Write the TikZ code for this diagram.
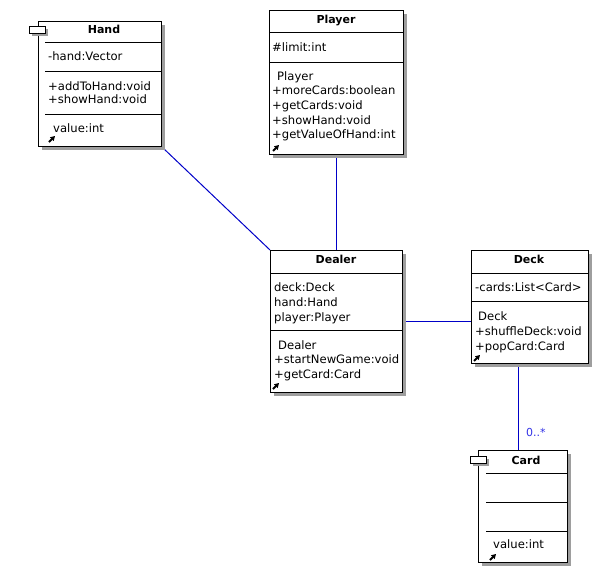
\documentclass[tikz,border=0pt]{standalone}
\usepackage{fontspec}
\setmainfont{DejaVu Sans}
\usetikzlibrary{shadows,arrows.meta,backgrounds}
\definecolor{assocblue}{RGB}{0,0,200}
\definecolor{labelblue}{RGB}{50,50,230}
\tikzset{
  umlbox/.style={draw,line width=1pt,fill=white,inner sep=0pt,anchor=north west,
    drop shadow={shadow xshift=3pt,shadow yshift=-3pt,fill=black!38,opacity=1}},
  umltab/.style={draw,line width=1pt,fill=white,inner sep=0pt,anchor=north west,
    minimum width=16pt,minimum height=7pt,
    drop shadow={shadow xshift=2pt,shadow yshift=-2pt,fill=black!38,opacity=1}},
  umltitle/.style={font=\bfseries\fontsize{11}{13}\selectfont,inner sep=0pt,anchor=mid,yshift=-2.5pt},
  umltext/.style={font=\fontsize{11.6}{13}\selectfont,inner sep=0pt,anchor=mid west,yshift=-2pt},
  umlsep/.style={line width=1pt},
  umlicon/.style={-{Triangle[length=4.5pt,width=5pt]},line width=2pt},
  assoc/.style={line width=1pt,draw=assocblue}
}
\begin{document}
\begin{tikzpicture}[x=1pt,y=-1pt]
  \useasboundingbox (0,0) rectangle (599,573);
  % Hand
  \begin{scope}[shift={(38,21)}]
    \node[umlbox,minimum width=123pt,minimum height=125pt] (Hand) at (0,0) {};
    \node[umltab] (handtab) at (-9,5) {};
    \node[umltitle] at (66,7) {Hand};
    \foreach \y in {21,50,93} \draw[umlsep] (7,\y) -- (123,\y);
    \node[umltext] at (10,35) {-hand:Vector};
    \node[umltext] at (10,65) {+addToHand:void};
    \node[umltext] at (10,78) {+showHand:void};
    \node[umltext] at (15,107) {value:int};
    \draw[umlicon] (11,121) -- ++(6,-6);
  \end{scope}
  % Player
  \begin{scope}[shift={(269,10)}]
    \node[umlbox,minimum width=134pt,minimum height=144pt] (Player) at (0,0) {};
    \node[umltitle] at (67,8) {Player};
    \foreach \y in {22,52} \draw[umlsep] (0,\y) -- (134,\y);
    \node[umltext] at (3,37) {\#limit:int};
    \node[umltext] at (8,66) {Player};
    \node[umltext] at (3,80) {+moreCards:boolean};
    \node[umltext] at (3,95) {+getCards:void};
    \node[umltext] at (3,110) {+showHand:void};
    \node[umltext] at (3,124) {+getValueOfHand:int};
    \draw[umlicon] (4,141) -- ++(6,-6);
  \end{scope}
  % Dealer
  \begin{scope}[shift={(270,250)}]
    \node[umlbox,minimum width=132pt,minimum height=142pt] (Dealer) at (0,0) {};
    \node[umltitle] at (66,8) {Dealer};
    \foreach \y in {23,80} \draw[umlsep] (0,\y) -- (132,\y);
    \node[umltext] at (4,37) {deck:Deck};
    \node[umltext] at (4,52) {hand:Hand};
    \node[umltext] at (4,67) {player:Player};
    \node[umltext] at (8,95) {Dealer};
    \node[umltext] at (4,109) {+startNewGame:void};
    \node[umltext] at (4,124) {+getCard:Card};
    \draw[umlicon] (3,139) -- ++(6,-6);
  \end{scope}
  % Deck
  \begin{scope}[shift={(471,250)}]
    \node[umlbox,minimum width=117pt,minimum height=113pt] (Deck) at (0,0) {};
    \node[umltitle] at (58,8) {Deck};
    \foreach \y in {23,51} \draw[umlsep] (0,\y) -- (117,\y);
    \node[umltext] at (4,37) {-cards:List<Card>};
    \node[umltext] at (7,66) {Deck};
    \node[umltext] at (4,81) {+shuffleDeck:void};
    \node[umltext] at (4,96) {+popCard:Card};
    \draw[umlicon] (3,111) -- ++(6,-6);
  \end{scope}
  % Card
  \begin{scope}[shift={(478,450)}]
    \node[umlbox,minimum width=89pt,minimum height=112pt] (Card) at (0,0) {};
    \node[umltab] (cardtab) at (-8,6) {};
    \node[umltitle] at (48,9) {Card};
    \foreach \y in {23,52,81} \draw[umlsep] (8,\y) -- (89,\y);
    \node[umltext] at (15,94) {value:int};
    \draw[umlicon] (12,110) -- ++(6,-6);
  \end{scope}
  % associations
  \begin{scope}[on background layer]
    \draw[assoc] (Hand.south east) -- (Dealer.north west);
    \draw[assoc] (Player.south) -- (Dealer.north);
    \draw[assoc] (Dealer.east) -- (Dealer.east -| Deck.west);
    \draw[assoc] ([xshift=-4.5pt]Card.north) -- ([xshift=-4.5pt]Card.north |- Deck.south)
      node[pos=.21,anchor=west,xshift=7pt,yshift=-1pt,text=labelblue,font=\fontsize{11}{13}\selectfont,inner sep=0pt] {0..*};
  \end{scope}
\end{tikzpicture}
\end{document}
